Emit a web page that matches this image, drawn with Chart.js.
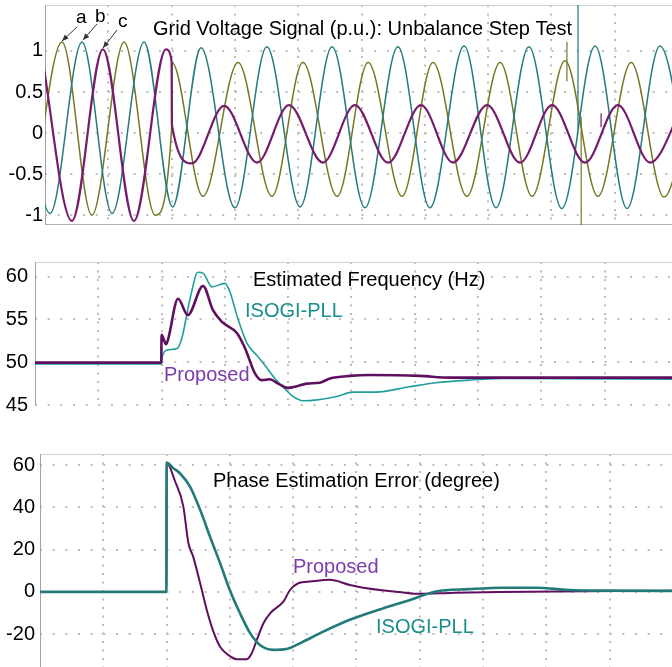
<!DOCTYPE html>
<html>
<head>
<meta charset="utf-8">
<script src="https://cdn.jsdelivr.net/npm/chart.js@4.4.0/dist/chart.umd.min.js"></script>
<style>
  html, body { margin: 0; padding: 0; background: #fff; }
  body { width: 672px; height: 667px; position: relative; overflow: hidden; }
  canvas { position: absolute; left: 0; }
</style>
</head>
<body>
<canvas id="volt" width="672" height="232" style="top:0px"></canvas>
<canvas id="freq" width="672" height="170" style="top:250px"></canvas>
<canvas id="phase" width="672" height="217" style="top:450px"></canvas>
<script>
// time in ms (20 ms per division, unbalance step at 40 ms)
const TIME_TICKS = [20, 40, 60, 80, 100, 120, 140, 160, 180];

// --- grid voltage (p.u.), peaks / troughs ---
const phaseA_t = [-4.4, 5.4, 14.8, 25.0, 34.8, 40.0, 40.1, 49.9, 61.0, 71.7, 81.5, 92.3, 102.1, 112.8, 122.6, 133.3, 143.8, 153.9, 164.3, 174.7, 185.2, 195.6, 205.9];
const phaseA_v = [-0.98, 1.11, -1.00, 1.11, -1.00, 0.05, 0.86, -0.77, 0.86, -0.77, 0.86, -0.77, 0.86, -0.77, 0.86, -0.77, 0.86, -0.77, 0.88, -0.77, 0.86, -0.78, 0.86];
const phaseB_t = [-8.2, 1.6, 11.7, 21.2, 31.3, 40.3, 49.3, 60.0, 70.1, 80.6, 90.7, 101.1, 111.5, 121.6, 132.4, 142.5, 152.9, 163.3, 173.8, 183.9, 194.3, 204.7];
const phaseB_v = [1.11, -0.98, 1.11, -0.98, 1.11, -0.90, 1.04, -0.91, 1.05, -0.90, 1.05, -0.91, 1.05, -0.91, 1.06, -0.91, 1.05, -0.92, 1.06, -0.92, 1.06, -0.91];
const phaseC_t = [-1.3, 8.5, 18.3, 28.1, 38.2, 40.0, 40.1, 46.4, 56.6, 67.0, 77.1, 87.8, 97.9, 108.4, 118.8, 128.9, 139.7, 150.1, 160.2, 170.6, 181.0, 191.2, 201.6];
const phaseC_v = [1.02, -1.07, 1.02, -1.07, 1.02, 0.88, 0.10, -0.37, 0.33, -0.36, 0.34, -0.36, 0.34, -0.36, 0.34, -0.36, 0.34, -0.36, 0.34, -0.36, 0.34, -0.36, 0.34];
// scope cursor and glitches
const cursorTeal = { t: 168.4, v: [1.56, 0.05] };
const cursorOlive = { t: 169.4, v: [0.2, -1.12] };
const spikeA = { t: 164.9, v: [1.11, 0.63] };
const spikeC = { t: 175.7, v: [0.24, 0.07] };
const VOLT_TICKS = [-1, -0.5, 0, 0.5, 1];

// --- estimated frequency (Hz) ---
const propFreq_t = [0, 39.9, 40.0, 41.4, 42.0, 45.2, 48.3, 53.1, 56.2, 59.1, 63.8, 66.4, 69.5, 71.7, 74.2, 76.8, 79.9, 82.8, 85.9, 90.0, 93.2, 99.5, 105.8, 121.6, 131.1, 162.7, 202];
const propFreq_v = [49.95, 49.95, 53.2, 52.1, 52.6, 57.4, 55.5, 58.9, 56.1, 54.7, 53.4, 51.6, 48.7, 47.9, 48.0, 47.5, 47.0, 47.2, 47.5, 47.6, 48.1, 48.4, 48.5, 48.4, 48.2, 48.2, 48.2];
const isoFreq_t = [0, 39.9, 40.2, 41.7, 44.9, 46.4, 49.0, 51.5, 53.1, 55.9, 60.0, 61.6, 64.1, 67.0, 70.1, 72.7, 75.8, 78.4, 81.5, 84.7, 89.1, 95.4, 100.5, 107.7, 117.9, 126.7, 137.1, 148.8, 202];
const isoFreq_v = [49.8, 49.8, 50.6, 51.4, 51.6, 52.8, 57.4, 60.5, 60.4, 58.8, 59.2, 58.2, 55.1, 52.2, 50.8, 49.6, 48.1, 47.1, 46.0, 45.5, 45.6, 46.0, 46.5, 46.5, 47.1, 47.6, 47.9, 48.1, 48.0];
const FREQ_TICKS = [45, 50, 55, 60];

// --- phase estimation error (degree) ---
const propPhase_t = [0, 39.95, 40.0, 42.7, 45.3, 46.9, 48.4, 50.6, 52.7, 54.8, 56.9, 59.5, 62.1, 65.3, 66.9, 68.5, 70.6, 72.7, 76.9, 79.0, 81.6, 85.3, 91.6, 97.9, 103.2, 114.8, 119.7, 129.5, 145.3, 200];
const propPhase_v = [0, 0, 61.1, 52.2, 40.3, 23.0, 16.7, 4.1, -8.5, -18.8, -25.9, -29.8, -31.8, -31.8, -29.0, -22.7, -14.8, -10.1, -4.6, 0.9, 4.1, 4.9, 5.7, 3.3, 1.7, -0.3, -0.9, -0.5, 0.0, 0.5];
const isoPhase_t = [0, 39.95, 40.0, 42.1, 44.2, 47.4, 50.6, 53.7, 56.9, 60.0, 63.2, 66.4, 69.5, 73.7, 77.9, 82.1, 89.5, 97.9, 108.5, 116.9, 125.1, 135.5, 146.3, 156.7, 167.1, 177.9, 200];
const isoPhase_v = [0, 0, 61.1, 58.5, 56.1, 49.8, 38.8, 26.2, 13.6, 0.8, -10.1, -19.5, -25.1, -27.4, -27.0, -24.3, -18.8, -13.2, -7.7, -3.8, 0.2, 1.3, 2.0, 2.0, 0.9, 0.6, 0.5];
const PHASE_TICKS = [-20, 0, 20, 40, 60];

const FONT = "'Liberation Sans', Arial, sans-serif";
const GRID = "#bcbcbc";
const OLIVE = "#767622";
const TEAL = "#237a7a";
const PURPLE = "#761a6c";
const TEAL_LIGHT = "#1f9f9c";
const PURPLE_DARK = "#5f0f5f";
const LABEL_TEAL = "#1a8f8c";
const LABEL_PURPLE = "#7b3aad";

function pts(ts, vs) {
  return ts.map((t, i) => ({ x: t, y: vs[i] }));
}

function trace(label, ts, vs, color, width) {
  return {
    label, data: pts(ts, vs), borderColor: color, borderWidth: width,
    pointRadius: 0, fill: false, cubicInterpolationMode: "monotone",
  };
}

function vseg(label, s, color, width) {
  return {
    label, data: s.v.map(v => ({ x: s.t, y: v })), borderColor: color, borderWidth: width,
    pointRadius: 0, fill: false, tension: 0, cubicInterpolationMode: "default",
  };
}

function drawArrow(ctx, x1, y1, x2, y2) {
  const ang = Math.atan2(y2 - y1, x2 - x1);
  ctx.beginPath();
  ctx.moveTo(x1, y1);
  ctx.lineTo(x2, y2);
  ctx.stroke();
  ctx.beginPath();
  ctx.moveTo(x2, y2);
  ctx.lineTo(x2 - 7 * Math.cos(ang - 0.4), y2 - 7 * Math.sin(ang - 0.4));
  ctx.lineTo(x2 - 7 * Math.cos(ang + 0.4), y2 - 7 * Math.sin(ang + 0.4));
  ctx.closePath();
  ctx.fill();
}

function overlay(cfg) {
  return {
    id: "overlay",
    beforeDatasetsDraw(chart) {
      const { ctx, chartArea: a } = chart;
      ctx.save();
      ctx.lineWidth = 1;
      ctx.strokeStyle = "#cfcfcf";
      ctx.beginPath();
      ctx.moveTo(a.left, a.top + 0.5);
      ctx.lineTo(a.right, a.top + 0.5);
      ctx.stroke();
      if (cfg.bottomBorder) {
        ctx.strokeStyle = "#b0b0b0";
        ctx.beginPath();
        ctx.moveTo(a.left, a.bottom - 0.5);
        ctx.lineTo(a.right, a.bottom - 0.5);
        ctx.stroke();
      }
      ctx.strokeStyle = "#a2a2a2";
      ctx.beginPath();
      ctx.moveTo(a.left + 0.5, a.top);
      ctx.lineTo(a.left + 0.5, a.bottom);
      ctx.stroke();
      ctx.restore();
    },
    afterDatasetsDraw(chart) {
      const ctx = chart.ctx;
      ctx.save();
      ctx.textBaseline = "alphabetic";
      cfg.notes.forEach(n => {
        ctx.font = (n.size || 20) + "px " + FONT;
        ctx.fillStyle = n.color || "#000";
        ctx.fillText(n.text, n.x, n.y);
      });
      ctx.strokeStyle = "#333";
      ctx.fillStyle = "#333";
      ctx.lineWidth = 1;
      (cfg.arrows || []).forEach(a => drawArrow(ctx, a[0], a[1], a[2], a[3]));
      ctx.restore();
    },
  };
}

function makePanel(id, cfg) {
  return new Chart(document.getElementById(id), {
    type: "line",
    data: { datasets: cfg.datasets },
    options: {
      responsive: false,
      animation: false,
      devicePixelRatio: 1,
      layout: { padding: cfg.padding },
      plugins: { legend: { display: false }, tooltip: { enabled: false } },
      scales: {
        x: {
          type: "linear",
          min: 0,
          max: cfg.xMax,
          ticks: { display: false },
          grid: { color: GRID, lineWidth: 2, drawTicks: false },
          border: { display: false, dash: [2, 6.5] },
          afterBuildTicks: s => { s.ticks = TIME_TICKS.map(v => ({ value: v })); },
          afterFit: s => { s.height = 0; s.paddingLeft = 0; s.paddingRight = 0; },
        },
        y: {
          type: "linear",
          min: cfg.yMin,
          max: cfg.yMax,
          ticks: {
            font: { family: FONT, size: 20 },
            color: "#000",
            padding: cfg.tickPad,
            callback: v => String(v),
          },
          grid: { color: GRID, lineWidth: 2, drawTicks: false },
          border: { display: false, dash: [2, 10.66] },
          afterBuildTicks: s => { s.ticks = cfg.yTicks.map(v => ({ value: v })); },
          afterFit: s => { s.width = cfg.left; s.paddingTop = 0; s.paddingBottom = 0; },
        },
      },
    },
    plugins: [overlay(cfg)],
  });
}

makePanel("volt", {
  left: 45, padding: { top: 5, bottom: 7, left: 0, right: 0 },
  xMax: 198.1, yMin: -1.12, yMax: 1.56, yTicks: VOLT_TICKS, tickPad: 2,
  bottomBorder: true,
  datasets: [
    trace("c", phaseC_t, phaseC_v, PURPLE, 2.2),
    trace("b", phaseB_t, phaseB_v, TEAL, 1.5),
    trace("a", phaseA_t, phaseA_v, OLIVE, 1.5),
    vseg("cursor b", cursorTeal, TEAL, 1.2),
    vseg("cursor a", cursorOlive, OLIVE, 1.2),
    vseg("glitch a", spikeA, OLIVE, 1.2),
    vseg("glitch c", spikeC, PURPLE, 1.2),
  ],
  notes: [
    { text: "Grid Voltage Signal (p.u.): Unbalance Step Test", x: 153, y: 35 },
    { text: "a", x: 76, y: 23, size: 19 },
    { text: "b", x: 95, y: 22, size: 19 },
    { text: "c", x: 118, y: 27, size: 19 },
  ],
  arrows: [[77, 27, 62, 41], [97, 24, 83, 40], [117, 30, 103, 48]],
});

makePanel("freq", {
  left: 35, padding: { top: 12, bottom: 15, left: 0, right: 0 },
  xMax: 201.3, yMin: 45, yMax: 61.7, yTicks: FREQ_TICKS, tickPad: 7,
  datasets: [
    trace("Proposed", propFreq_t, propFreq_v, PURPLE_DARK, 2.6),
    trace("ISOGI-PLL", isoFreq_t, isoFreq_v, TEAL_LIGHT, 1.6),
  ],
  notes: [
    { text: "Estimated Frequency (Hz)", x: 253, y: 36 },
    { text: "ISOGI-PLL", x: 245, y: 67, color: LABEL_TEAL },
    { text: "Proposed", x: 164, y: 131, color: LABEL_PURPLE },
  ],
});

makePanel("phase", {
  left: 40, padding: { top: 4, bottom: 0, left: 0, right: 0 },
  xMax: 199.7, yMin: -35.5, yMax: 65.2, yTicks: PHASE_TICKS, tickPad: 5,
  datasets: [
    trace("ISOGI-PLL", isoPhase_t, isoPhase_v, TEAL, 2.6),
    trace("Proposed", propPhase_t, propPhase_v, PURPLE_DARK, 2),
  ],
  notes: [
    { text: "Phase Estimation Error (degree)", x: 213, y: 37 },
    { text: "Proposed", x: 293, y: 123, color: LABEL_PURPLE },
    { text: "ISOGI-PLL", x: 376, y: 183, color: LABEL_TEAL },
  ],
});
</script>
</body>
</html>
